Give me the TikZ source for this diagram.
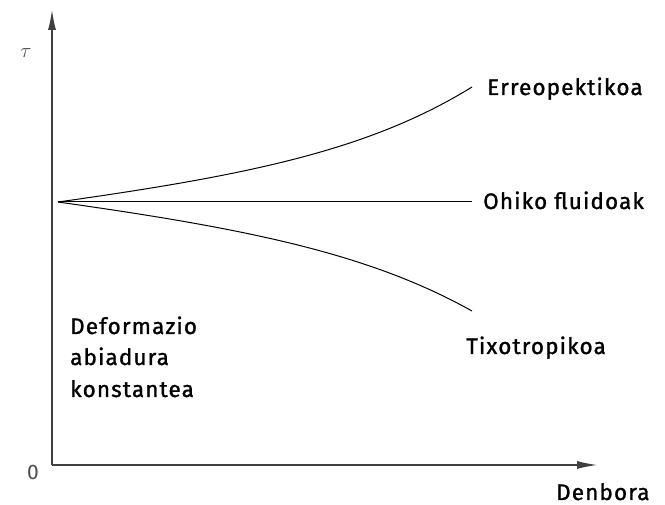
\documentclass[tikz,border=0pt]{standalone}
\usepackage{fontspec}
\setmainfont{Fira Sans}
\newfontfamily\lblfont{Fira Sans}[FakeBold=1.2,LetterSpace=5]
\usetikzlibrary{arrows.meta}
\begin{document}
\begin{tikzpicture}[x=1pt,y=-1pt,
  axis/.style={line width=1.1pt,draw=black!75,-{Latex[length=20pt,width=8pt]}},
  curve/.style={line width=1pt},
  lbl/.style={font=\lblfont\fontsize{22.5}{26}\selectfont,anchor=base west,inner sep=0pt},
  small/.style={font=\fontsize{21}{24}\selectfont,inner sep=0pt,text=black!70}]
\useasboundingbox (0,0) rectangle (665,505);
\coordinate (O) at (52,465);
\coordinate (ytop) at (52,10);
\coordinate (xend) at (597,465);
\draw[axis] (O) -- (ytop);
\draw[axis] (O) -- (xend);
\node[small] (tau) at (26,53) {$\tau$};
\node[small] (zero) at (33,472) {0};
\node[lbl] (den) at (556,500) {Denbora};
\coordinate (S) at (58,202);
\coordinate (Eend) at (472,87);
\coordinate (Oend) at (472,202);
\coordinate (Tend) at (472,311);
\draw[curve] (S) .. controls (250,175) and (370,150) .. (Eend);
\draw[curve] (S) -- (Oend);
\draw[curve] (S) .. controls (250,229) and (370,254) .. (Tend);
\node[lbl] (E) at (487,95) {Erreopektikoa};
\node[lbl] (F) at (483,209) {Ohiko fluidoak};
\node[lbl] (T) at (466,354) {Tixotropikoa};
\node[lbl] (D1) at (70,334) {Deformazio};
\node[lbl] (D2) at (70,365) {abiadura};
\node[lbl] (D3) at (70,397) {konstantea};
\end{tikzpicture}
\end{document}
